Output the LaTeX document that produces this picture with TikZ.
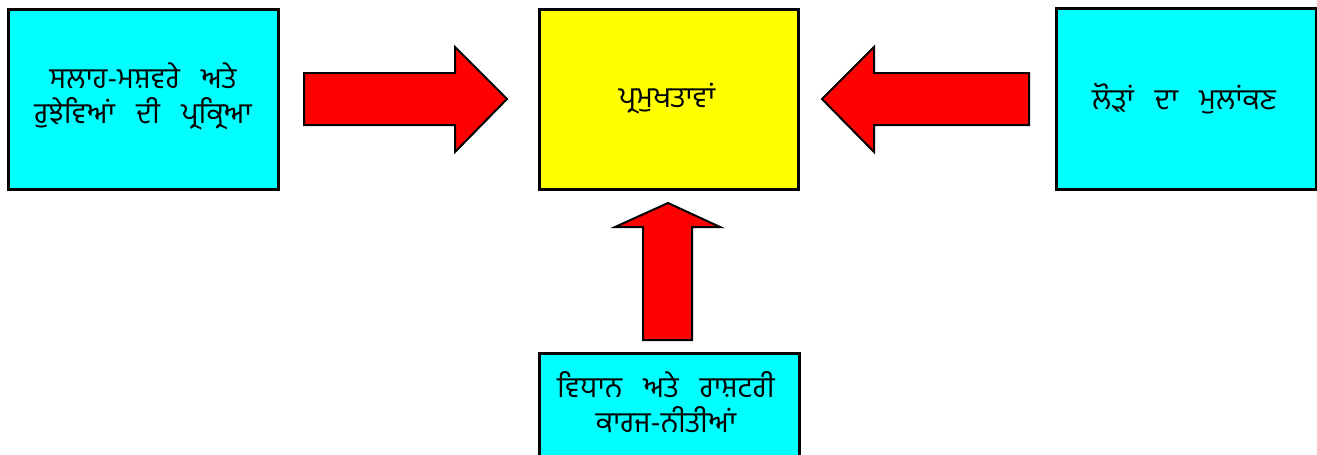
\documentclass[tikz,border=0pt]{standalone}
\usepackage{fontspec}
\newfontfamily\pafont[Script=Gurmukhi,WordSpace=3.0]{Hind Jalandhar}
\definecolor{boxcyan}{RGB}{0,255,255}
\definecolor{boxyellow}{RGB}{255,255,0}
\definecolor{arrowred}{RGB}{255,0,0}
\begin{document}
\begin{tikzpicture}[x=1pt,y=-1pt,
  box/.style={draw=black,line width=3pt,inner sep=0pt,anchor=north west},
  lbl/.style={font=\pafont\fontsize{29}{35}\selectfont,align=center,inner sep=0pt},
  blockarrow/.style={draw=black,line width=2pt,fill=arrowred,line join=miter}]
\useasboundingbox (0,0) rectangle (1317,455);
\clip (0,0) rectangle (1317,455);
% boxes
\node[box,fill=boxcyan,minimum width=270pt,minimum height=180pt] (lb) at (7,8) {};
\node[box,fill=boxyellow,minimum width=259pt,minimum height=180pt] (cb) at (538,8) {};
\node[box,fill=boxcyan,minimum width=260pt,minimum height=181pt] (rb) at (1055,7) {};
\node[box,fill=boxcyan,minimum width=260pt,minimum height=180pt] (bb) at (538,352) {};
% labels
\node[lbl] (lt) at (143,96) {ਸਲਾਹ-ਮਸ਼ਵਰੇ ਅਤੇ\\ਰੁਝੇਵਿਆਂ ਦੀ ਪ੍ਰਕ੍ਰਿਆ};
\node[lbl] (ct) at (667,99) {ਪ੍ਰਮੁਖਤਾਵਾਂ};
\node[lbl] (rt) at (1184,99) {ਲੋੜਾਂ ਦਾ ਮੁਲਾਂਕਣ};
\node[lbl] (bt) at (666,402) {ਵਿਧਾਨ ਅਤੇ ਰਾਸ਼ਟਰੀ\\ਕਾਰਜ-ਨੀਤੀਆਂ};
% block arrows
\draw[blockarrow] (304,73) -- (455,73) -- (455,47) -- (507,99) -- (455,152) -- (455,125) -- (304,125) -- cycle;
\draw[blockarrow] (1029,73) -- (874,73) -- (874,47) -- (822,99) -- (874,152) -- (874,125) -- (1029,125) -- cycle;
\draw[blockarrow] (643,340) -- (643,227) -- (615,227) -- (668,203) -- (720,227) -- (692,227) -- (692,340) -- cycle;
\end{tikzpicture}
\end{document}
